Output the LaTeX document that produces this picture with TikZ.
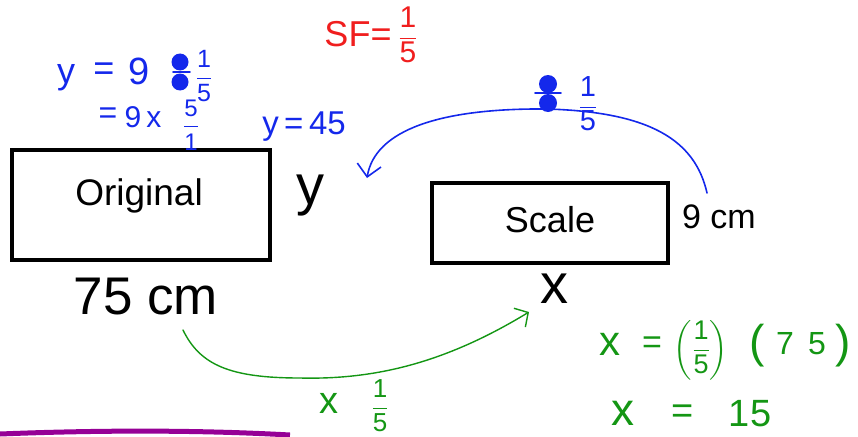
\documentclass[tikz,border=0pt]{standalone}
\usepackage{amsmath}
\usepackage{fontspec}
\setmainfont{Liberation Sans}
\setsansfont{Liberation Sans}
\usepackage{tikz}
\usetikzlibrary{arrows.meta}

\definecolor{penblue}{RGB}{20,40,235}
\definecolor{pengreen}{RGB}{20,150,20}
\definecolor{penred}{RGB}{240,30,30}
\definecolor{penpurple}{RGB}{150,0,150}

\newcommand{\fsz}[1]{\fontsize{#1}{#1}\selectfont}
\newcommand{\hfrac}[2]{$\dfrac{\mbox{#1}}{\mbox{#2}}$}

\tikzset{
  boxed/.style = {draw, line width=3.5pt, inner sep=0pt},
  label/.style = {inner sep=0pt},
  blue ink/.style = {penblue, inner sep=0pt},
  green ink/.style = {pengreen, inner sep=0pt},
  red ink/.style = {penred, inner sep=0pt},
  blue pen/.style = {draw=penblue, line width=1.6pt, line cap=round, line join=round},
  green pen/.style = {draw=pengreen, line width=1.4pt, line cap=round, line join=round},
}

\begin{document}
\begin{tikzpicture}[x=1pt, y=-1pt]
  \useasboundingbox (0,0) rectangle (858,436);

  % the two rectangles and their measures
  \node[boxed, minimum width=258pt, minimum height=110pt] (orig) at (141,205) {};
  \node[label, font=\fsz{37}] (origtext) at (139,196) {Original};
  \node[boxed, minimum width=236pt, minimum height=80pt] (scale) at (550,223) {};
  \node[label, font=\fsz{36}] (scaletext) at (550,220) {Scale};
  \node[label, font=\fsz{56}] (ylab) at (310,196) {y};
  \node[label, font=\fsz{53}] (len75) at (146,297) {75 cm};
  \node[label, font=\fsz{34}] (len9) at (719,217) {9 cm};
  \node[label, font=\fsz{56}] (xlab) at (554,289) {x};

  % scale factor
  \node[red ink, font=\fsz{36}] (sf) at (358,34) {SF=};
  \node[red ink, font=\fsz{30}] (sffrac) at (408,35) {\hfrac{1}{5}};

  % working for y
  \node[blue ink, font=\fsz{36}] (yvar) at (66,78) {y};
  \node[blue ink, font=\fsz{36}] (yeqs) at (104,72) {=};
  \node[blue ink, font=\fsz{38}] (ynine) at (139,71) {9};
  \fill[penblue] (180,62) circle (8.5pt) (180,82) circle (8.5pt);
  \draw[blue pen] (173,72) -- (190,72);
  \node[blue ink, font=\fsz{25}] (yfrac) at (204,76) {\hfrac{1}{5}};
  \node[blue ink, font=\fsz{32}] (yeqt) at (108,116) {=};
  \node[blue ink, font=\fsz{30}] (ystep) at (143,117) {9\,x};
  \node[blue ink, font=\fsz{24}] (yinv) at (191,125) {\hfrac{5}{1}};
  \node[blue ink, font=\fsz{33}] (yres) at (304,127) {y\,=\,45};

  % arrow from 9 cm back to y
  \coordinate (bstart) at (707,193);
  \coordinate (bend) at (367,178);
  \draw[blue pen, -{Straight Barb[length=12pt, width=24pt]}]
    (bstart) .. controls (695,140) and (650,112) .. (547,109)
    .. controls (440,108) and (375,130) .. (bend);
  \fill[penblue] (548,84) circle (9pt) (548,103) circle (9pt);
  \draw[blue pen] (535,93) -- (561,93);
  \node[blue ink, font=\fsz{29}] (bfrac) at (588,104) {\hfrac{1}{5}};

  % arrow from 75 cm to x
  \coordinate (gstart) at (183,330);
  \coordinate (gend) at (529,312);
  \draw[green pen, -{Straight Barb[length=10pt, width=22pt]}]
    (gstart) .. controls (200,365) and (230,378) .. (300,378)
    .. controls (380,380) and (450,360) .. (gend);
  \node[green ink, font=\fsz{38}] (gtimes) at (329,403) {x};
  \node[green ink, font=\fsz{26}] (gfrac) at (380,406) {\hfrac{1}{5}};

  % working for x
  \node[green ink, font=\fsz{42}] (xvar) at (610,344) {x};
  \node[green ink, font=\fsz{34}] (xeqs) at (652,345) {=};
  \node[green ink, font=\fsz{27}] (xfrac) at (701,350) {$\left(\dfrac{\mbox{1}}{\mbox{5}}\right)$};
  \node[green ink, font=\fsz{46}] (xlp) at (757,346) {(};
  \node[green ink, font=\fsz{32}] (xnum) at (801,344) {7\;\,5};
  \node[green ink, font=\fsz{46}] (xrp) at (843,346) {)};
  \node[green ink, font=\fsz{46}] (xvarb) at (623,413) {x};
  \node[green ink, font=\fsz{38}] (xeqb) at (683,414) {=};
  \node[green ink, font=\fsz{38}] (xres) at (750,414) {15};

  % purple stroke at the bottom
  \draw[penpurple, line width=5pt] (0,434) .. controls (100,430) and (200,430) .. (290,435);
\end{tikzpicture}
\end{document}
